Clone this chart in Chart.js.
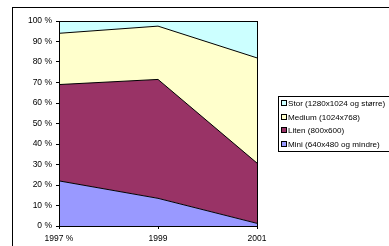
<!DOCTYPE html>
<html>
<head>
<meta charset="utf-8">
<script src="https://cdn.jsdelivr.net/npm/chart.js@4"></script>
<style>
  html, body { margin: 0; padding: 0; background: #fff; overflow: hidden; }
  #wrap { position: relative; width: 389px; height: 246px; }
  #frame { position: absolute; left: 12px; top: 7px; width: 500px; height: 400px; border: 1px solid #000; }
  #chart { position: absolute; left: 0; top: 0; }
  #legend { position: absolute; left: 278px; top: 96px; width: 120px; height: 54px; border: 1px solid #000;
            font: 8.1px "Liberation Sans", Arial, sans-serif; color: #000; }
  #legend div { position: absolute; left: 2px; white-space: nowrap; line-height: 10px; }
  #legend span { display: inline-block; width: 4px; height: 4px; border: 1px solid #000; margin-right: 1px; vertical-align: 0; }
</style>
</head>
<body>
<div id="wrap">
  <div id="frame"></div>
  <canvas id="chart" width="389" height="246"></canvas>
  <div id="legend"></div>
</div>
<script>
const years = ['1997 %', '1999', '2001'];
const seriesNames = ['Mini (640x480 og mindre)', 'Liten (800x600)', 'Medium (1024x768)', 'Stor (1280x1024 og større)'];
const mini = [22, 13.5, 1.3];
const liten = [47, 58, 29.4];
const medium = [25, 26, 51.3];
const stor = [6, 2.5, 18];
const colors = ['#9999FF', '#993366', '#FFFFCC', '#CCFFFF'];
const yTicks = [0, 10, 20, 30, 40, 50, 60, 70, 80, 90, 100];

const values = [mini, liten, medium, stor];

// legend, in reverse order like the original
const legend = document.getElementById('legend');
for (let i = values.length - 1, row = 0; i >= 0; i--, row++) {
    const d = document.createElement('div');
    d.style.top = (2 + row * 13.7) + 'px';
    d.innerHTML = '<span style="background:' + colors[i] + '"></span>' + seriesNames[i];
    legend.appendChild(d);
}

const plotBorder = {
    id: 'plotBorder',
    afterDatasetsDraw(chart) {
        const a = chart.chartArea, c = chart.ctx;
        c.save();
        c.strokeStyle = '#000';
        c.lineWidth = 1;
        c.strokeRect(Math.round(a.left) + 0.5, Math.round(a.top) + 0.5, Math.round(a.right - a.left), Math.round(a.bottom - a.top));
        c.restore();
    }
};

new Chart(document.getElementById('chart'), {
    type: 'line',
    data: {
        labels: years,
        datasets: values.map((v, i) => ({
            label: seriesNames[i],
            data: v,
            backgroundColor: colors[i],
            borderColor: '#000',
            borderWidth: 1,
            pointRadius: 0,
            tension: 0,
            fill: i === 0 ? 'origin' : '-1'
        }))
    },
    options: {
        responsive: false,
        animation: false,
        layout: { padding: { left: 12, right: 132, top: 21, bottom: 0 } },
        plugins: { legend: { display: false }, tooltip: { enabled: false } },
        scales: {
            x: {
                offset: false,
                grid: { drawOnChartArea: false, color: '#000', tickLength: 3 },
                border: { color: '#000' },
                ticks: { color: '#000', font: { family: 'Liberation Sans', size: 8.5 }, maxRotation: 0, padding: 5 },
                afterFit(s) { s.height = 20; }
            },
            y: {
                stacked: true,
                min: 0,
                max: 100,
                afterBuildTicks(s) { s.ticks = yTicks.map(v => ({ value: v })); },
                grid: { drawOnChartArea: false, color: '#000', tickLength: 3 },
                border: { color: '#000' },
                ticks: { color: '#000', font: { family: 'Liberation Sans', size: 8.5 }, padding: 4, callback: v => v + ' %' },
                afterFit(s) { s.width = 47; }
            }
        }
    },
    plugins: [plotBorder]
});
</script>
</body>
</html>
